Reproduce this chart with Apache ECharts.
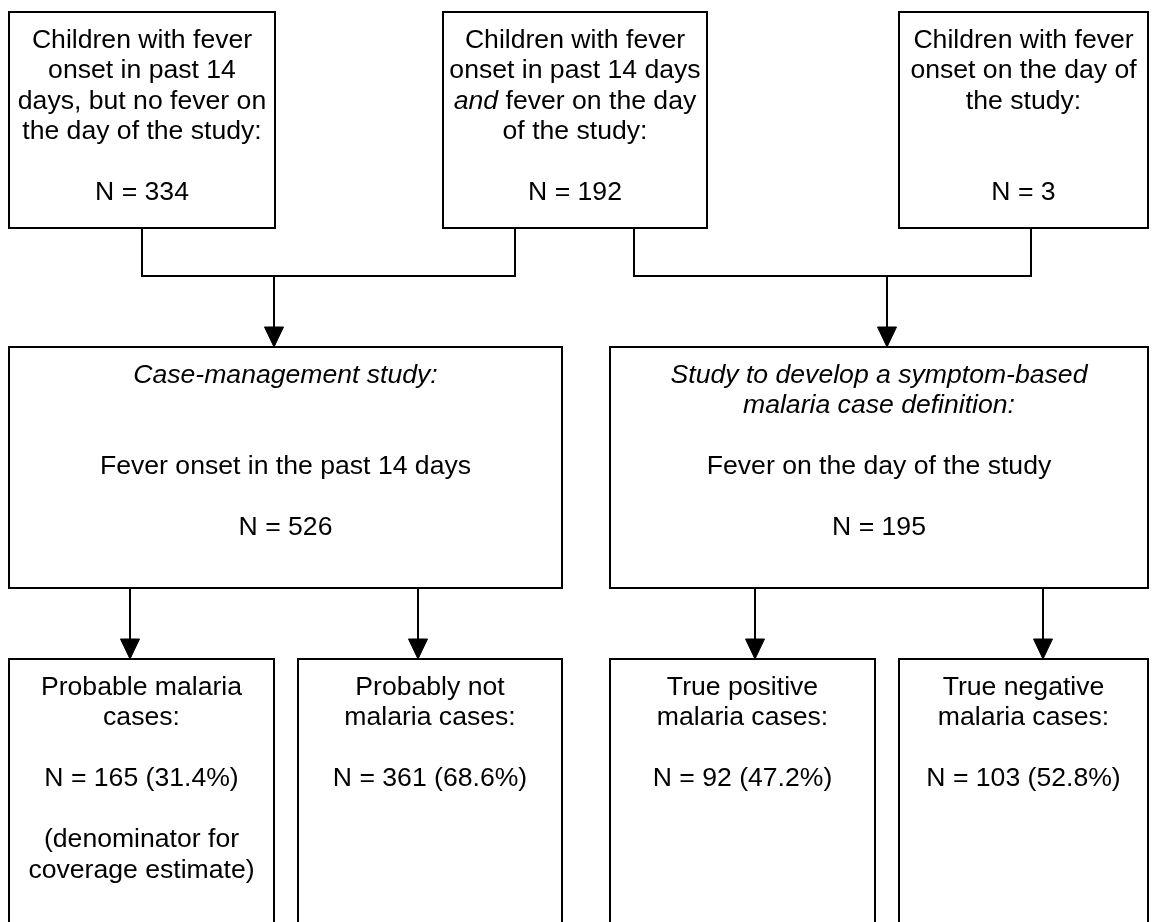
<!DOCTYPE html>
<html>
<head>
<meta charset="utf-8">
<script src="https://cdn.jsdelivr.net/npm/echarts/dist/echarts.min.js"></script>
<style>
html,body{margin:0;padding:0;background:#fff;}
#chart{width:1156px;height:922px;}
</style>
</head>
<body>
<div id="chart"></div>
<script>
// ---------------- DATA (texts and counts) ----------------
const groupLines = [
  ["Children with fever", "onset in past 14", "days, but no fever on", "the day of the study:"],
  ["Children with fever", "onset in past 14 days", "{i|and} fever on the day", "of the study:"],
  ["Children with fever", "onset on the day of", "the study:"]
];
const groupN = [334, 192, 3];

const studyLines = [
  ["{i|Case-management study:}", "", "", "Fever onset in the past 14 days"],
  ["{i|Study to develop a symptom-based}", "{i|malaria case definition:}", "", "Fever on the day of the study"]
];
const studyN = [526, 195];

const outcomeLines = [
  ["Probable malaria", "cases:"],
  ["Probably not", "malaria cases:"],
  ["True positive", "malaria cases:"],
  ["True negative", "malaria cases:"]
];
const outcomeN = [165, 361, 92, 103];
const outcomePct = [31.4, 68.6, 47.2, 52.8];
const outcomeNotes = [["(denominator for", "coverage estimate)"], [], [], []];

// ---------------- LAYOUT (positions / sizes, kept apart from data) ----------------
const topCols = [[9, 275], [443, 707], [899, 1148]];
const topRows = [12, 228];
const midCols = [[9, 562], [610, 1148]];
const midRows = [347, 588];
const botCols = [[9, 274], [298, 562], [610, 875], [899, 1148]];
const botRows = [659, 940];
const nLineIndexTop = 5, nLineIndexMid = 5, nLineIndexBot = 3, noteLineIndexBot = 5;
const joinY = 276;
const joinPairs = [[142, 515], [634, 1031]];
const joinArrowX = [274, 887];
const midArrowX = [130, 418, 755, 1043];

const FONT = "'Liberation Sans', Arial, sans-serif";
const FS = 26.6;
const LH = 30.5;
const FIRST = 28.5;
const ARROW_W = 19, ARROW_H = 20;

// ---------------- BUILD BOX LIST ----------------
const boxes = [];
groupLines.forEach((lines, k) => {
  const l = lines.slice();
  while (l.length < nLineIndexTop) l.push("");
  l[nLineIndexTop] = "N = " + groupN[k];
  boxes.push({x0: topCols[k][0], x1: topCols[k][1], y0: topRows[0], y1: topRows[1], lines: l});
});
studyLines.forEach((lines, k) => {
  const l = lines.slice();
  while (l.length < nLineIndexMid) l.push("");
  l[nLineIndexMid] = "N = " + studyN[k];
  boxes.push({x0: midCols[k][0], x1: midCols[k][1], y0: midRows[0], y1: midRows[1], lines: l});
});
outcomeLines.forEach((lines, k) => {
  const l = lines.slice();
  while (l.length < nLineIndexBot) l.push("");
  l[nLineIndexBot] = "N = " + outcomeN[k] + " (" + outcomePct[k].toFixed(1) + "%)";
  outcomeNotes[k].forEach((t, j) => {
    while (l.length < noteLineIndexBot + j) l.push("");
    l[noteLineIndexBot + j] = t;
  });
  boxes.push({x0: botCols[k][0], x1: botCols[k][1], y0: botRows[0], y1: botRows[1], lines: l});
});

// connectors: elbow joins + arrows
const connectors = [];
joinPairs.forEach((pr, k) => {
  connectors.push({type: 'poly', pts: [[pr[0], topRows[1]], [pr[0], joinY], [pr[1], joinY], [pr[1], topRows[1]]]});
  connectors.push({type: 'arrow', x: joinArrowX[k], y0: joinY, y1: midRows[0]});
});
midArrowX.forEach((x) => {
  connectors.push({type: 'arrow', x: x, y0: midRows[1], y1: botRows[0]});
});

const chart = echarts.init(document.getElementById('chart'), null, {renderer: 'canvas'});

function renderBox(params, api) {
  const b = boxes[params.dataIndex];
  const p0 = api.coord([b.x0, b.y0]);
  const p1 = api.coord([b.x1, b.y1]);
  const children = [{
    type: 'rect',
    shape: {x: p0[0], y: p0[1], width: p1[0] - p0[0], height: p1[1] - p0[1]},
    style: {fill: '#fff', stroke: '#000', lineWidth: 2}
  }];
  b.lines.forEach((t, i) => {
    if (!t) return;
    const c = api.coord([(b.x0 + b.x1) / 2, b.y0 + FIRST + i * LH]);
    children.push({
      type: 'text',
      x: c[0], y: c[1],
      style: {
        text: t,
        fontSize: FS, fontFamily: FONT, fill: '#000',
        align: 'center', verticalAlign: 'middle',
        rich: {i: {fontStyle: 'italic', fontSize: FS, fontFamily: FONT, fill: '#000'}}
      }
    });
  });
  return {type: 'group', children: children};
}

function renderConnector(params, api) {
  const c = connectors[params.dataIndex];
  if (c.type === 'poly') {
    return {
      type: 'polyline',
      shape: {points: c.pts.map(p => api.coord(p))},
      style: {stroke: '#000', lineWidth: 2, fill: null, lineJoin: 'miter'}
    };
  }
  const a = api.coord([c.x, c.y0]);
  const b = api.coord([c.x, c.y1 - ARROW_H]);
  const tip = api.coord([c.x, c.y1]);
  const l = api.coord([c.x - ARROW_W / 2, c.y1 - ARROW_H]);
  const r = api.coord([c.x + ARROW_W / 2, c.y1 - ARROW_H]);
  return {
    type: 'group',
    children: [
      {type: 'line', shape: {x1: a[0], y1: a[1], x2: b[0], y2: b[1]}, style: {stroke: '#000', lineWidth: 2}},
      {type: 'polygon', shape: {points: [l, r, tip]}, style: {fill: '#000', stroke: '#000', lineWidth: 1}}
    ]
  };
}

chart.setOption({
  animation: false,
  backgroundColor: '#fff',
  grid: {left: 0, right: 0, top: 0, bottom: 0},
  xAxis: {type: 'value', min: 0, max: 1156, show: false},
  yAxis: {type: 'value', min: 0, max: 922, inverse: true, show: false},
  series: [
    {
      type: 'custom',
      name: 'connectors',
      renderItem: renderConnector,
      data: connectors.map((c, i) => [i]),
      encode: {x: 0, y: 0},
      clip: false,
      silent: true
    },
    {
      type: 'custom',
      name: 'boxes',
      renderItem: renderBox,
      data: boxes.map((b, i) => [i]),
      encode: {x: 0, y: 0},
      clip: false,
      silent: true
    }
  ]
});
</script>
</body>
</html>
